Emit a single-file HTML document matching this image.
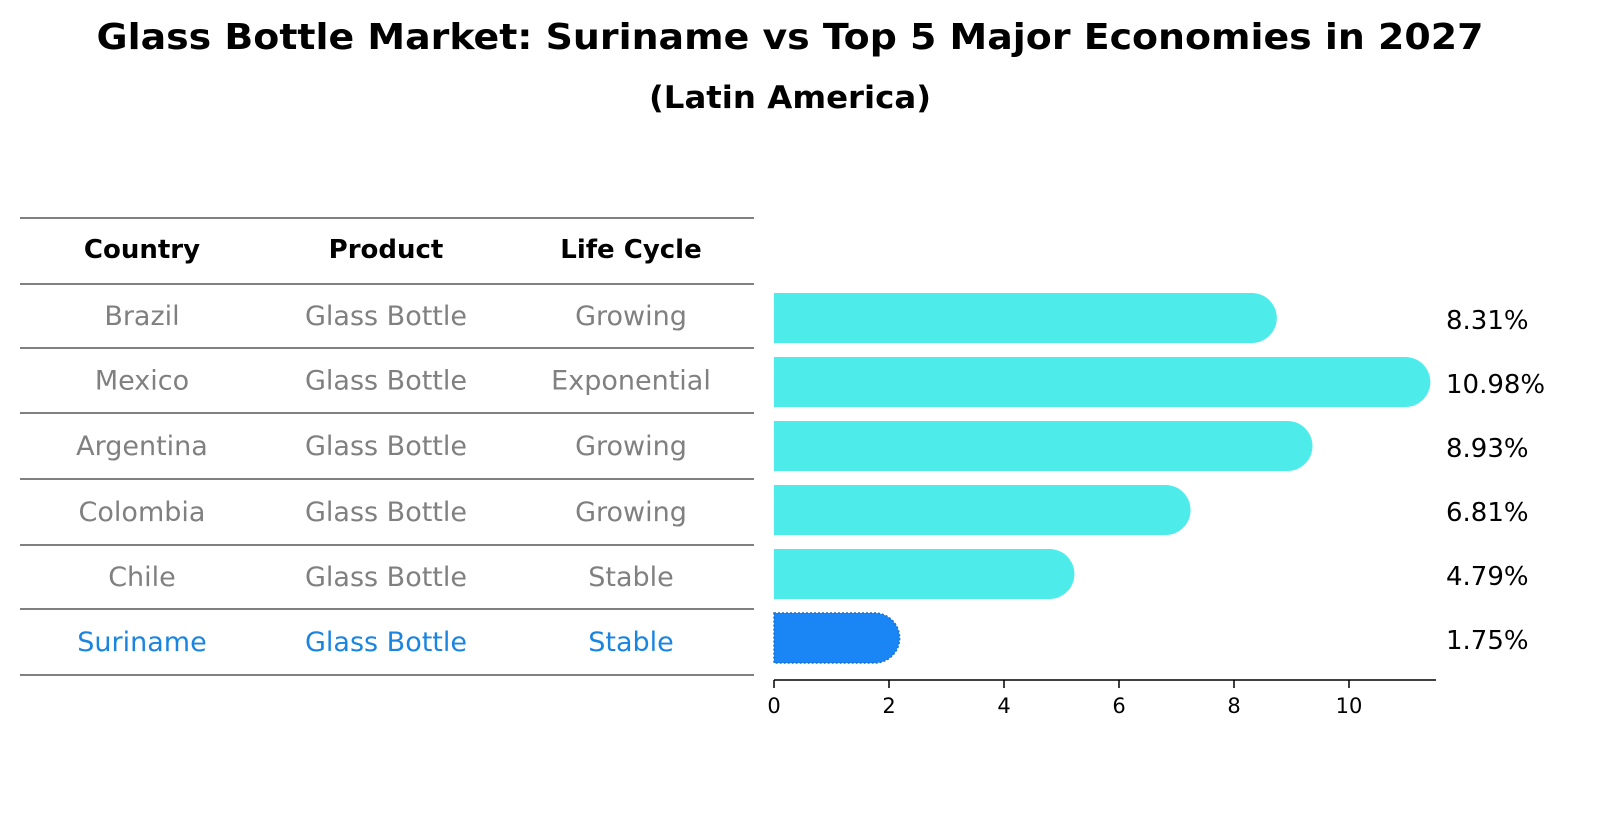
<!DOCTYPE html>
<html><head><meta charset="utf-8"><style>
body{margin:0;background:#fff;font-family:"Liberation Sans","DejaVu Sans",sans-serif}
svg text{font-family:"DejaVu Sans","Liberation Sans",sans-serif}
</style></head><body>
<svg id="c" width="1604" height="823" viewBox="0 0 1604 823" xmlns="http://www.w3.org/2000/svg">
<text x="790" y="49" text-anchor="middle" font-size="36" font-weight="bold" textLength="1387" lengthAdjust="spacingAndGlyphs">Glass Bottle Market: Suriname vs Top 5 Major Economies in 2027</text>
<text x="790" y="108" text-anchor="middle" font-size="31" font-weight="bold" textLength="282" lengthAdjust="spacingAndGlyphs">(Latin America)</text>
<g id="tbl"></g>
<g id="bars"></g>
</svg>
<script>
const countries=["Brazil","Mexico","Argentina","Colombia","Chile","Suriname"];
const products=["Glass Bottle","Glass Bottle","Glass Bottle","Glass Bottle","Glass Bottle","Glass Bottle"];
const lifecycles=["Growing","Exponential","Growing","Growing","Stable","Stable"];
const values=[8.31,10.98,8.93,6.81,4.79,1.75];
const ticks=[0,2,4,6,8,10];
const NS="http://www.w3.org/2000/svg";
function mk(t,a,p){const e=document.createElementNS(NS,t);for(const k in a)e.setAttribute(k,a[k]);p.appendChild(e);return e;}
const tbl=document.getElementById('tbl'),bars=document.getElementById('bars');
const lineYs=[218,284,348,413,479,545,609,675];
const colX=[142,386,631];
const x=v=>774+v*57.5;
const rowY=i=>318+i*64;
lineYs.forEach((y,i)=>{const l=mk('line',{x1:20,x2:754,y1:y,y2:y,stroke:'#000','stroke-width':1},tbl);

});
["Country","Product","Life Cycle"].forEach((h,j)=>{const t=mk('text',{x:colX[j],y:258,'text-anchor':'middle','font-size':26,'font-weight':'bold'},tbl);t.textContent=h;

});
countries.forEach((c,i)=>{const col=i==countries.length-1?'#1a85e0':'#808080';
[c,products[i],lifecycles[i]].forEach((s,j)=>{const t=mk('text',{x:colX[j],y:(lineYs[i+1]+lineYs[i+2])/2+9,'text-anchor':'middle','font-size':27,fill:col},tbl);t.textContent=s;

});});
values.forEach((v,i)=>{const last=i==values.length-1;const cy=rowY(i),h=50,r=25;const x0=x(0),x1=x(v);
const p=mk('path',{d:`M${x0},${cy-h/2} H${x1} A${r},${r} 0 0 1 ${x1},${cy+h/2} H${x0} Z`,fill:last?'#1a85f5':'#4deceb',stroke:last?'#1a70d0':'none','stroke-dasharray':last?'2,2':'none','stroke-width':1.5},bars);


const t=mk('text',{x:1446,y:cy+11,'font-size':26},bars);t.textContent=v.toFixed(2)+'%';

});
const ax=mk('line',{x1:774,x2:1436,y1:680,y2:680,stroke:'#000','stroke-width':1.5},bars);


ticks.forEach(v=>{const l=mk('line',{x1:x(v),x2:x(v),y1:680,y2:688,stroke:'#000','stroke-width':1.5},bars);


const t=mk('text',{x:x(v),y:713,'text-anchor':'middle','font-size':21},bars);t.textContent=v;

});
</script>
</body></html>
